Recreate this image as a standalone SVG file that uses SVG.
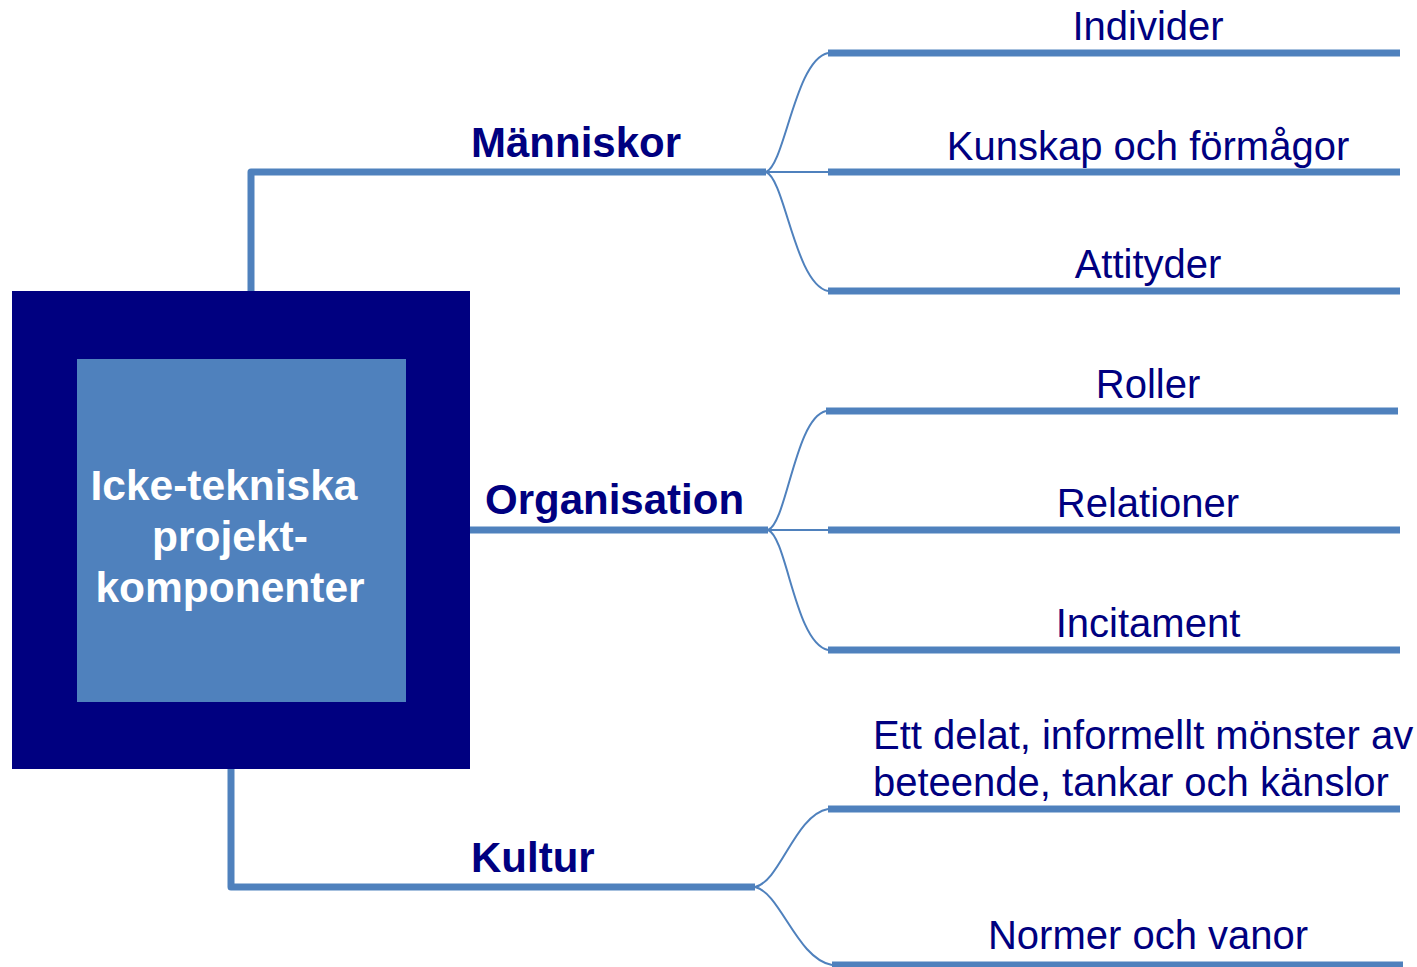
<svg xmlns="http://www.w3.org/2000/svg" width="1417" height="967" viewBox="0 0 1417 967">
<style>
.thick{fill:none;stroke:#4F81BD;stroke-width:7;stroke-linejoin:round;stroke-linecap:butt}
.thin{fill:none;stroke:#4F81BD;stroke-width:2}
.cat{font-family:"Liberation Sans",Arial,sans-serif;font-weight:bold;font-size:42px;fill:#000080}
.leaf{font-family:"Liberation Sans",Arial,sans-serif;font-size:40px;fill:#000080;text-anchor:middle}
.leafL{font-family:"Liberation Sans",Arial,sans-serif;font-size:40px;fill:#000080}
.center{font-family:"Liberation Sans",Arial,sans-serif;font-weight:bold;font-size:42.5px;fill:#FFFFFF;text-anchor:middle}
</style>
<rect width="1417" height="967" fill="#FFFFFF"/>
<g id="connectors">
  <path class="thick" d="M251,291 V172 H766"/>
  <path class="thick" d="M470,530 H768"/>
  <path class="thick" d="M231,769 V887 H755"/>
  <path class="thin" d="M766,172 C785,165 795,60 828,53"/>
  <path class="thin" d="M766,172 H828"/>
  <path class="thin" d="M766,172 C785,179 795,284 828,291"/>
  <path class="thin" d="M768,530 C787,523 795,418 826,411"/>
  <path class="thin" d="M768,530 H828"/>
  <path class="thin" d="M768,530 C787,537 795,643 828,650"/>
  <path class="thin" d="M755,887 C780,882 795,815 828,809"/>
  <path class="thin" d="M755,887 C780,892 797,959 832,965"/>
  <path class="thick" d="M828,53 H1400"/>
  <path class="thick" d="M828,172 H1400"/>
  <path class="thick" d="M828,291 H1400"/>
  <path class="thick" d="M826,411 H1398"/>
  <path class="thick" d="M828,530 H1400"/>
  <path class="thick" d="M828,650 H1400"/>
  <path class="thick" d="M828,809 H1400"/>
  <path class="thick" d="M832,965 H1403"/>
</g>
<g id="center-node">
  <rect x="12" y="291" width="458" height="478" fill="#000080"/>
  <rect x="77" y="359" width="329" height="343" fill="#4F81BD"/>
  <text class="center" x="224" y="500">Icke-tekniska</text>
  <text class="center" x="230" y="551">projekt-</text>
  <text class="center" x="230" y="602">komponenter</text>
</g>
<g id="manniskor"><text class="cat" x="471" y="157">Människor</text></g>
<g id="organisation"><text class="cat" x="485" y="514">Organisation</text></g>
<g id="kultur"><text class="cat" x="471" y="872">Kultur</text></g>
<g id="individer"><text class="leaf" x="1148" y="40">Individer</text></g>
<g id="kunskap"><text class="leaf" x="1148" y="160">Kunskap och förmågor</text></g>
<g id="attityder"><text class="leaf" x="1148" y="278">Attityder</text></g>
<g id="roller"><text class="leaf" x="1148" y="398">Roller</text></g>
<g id="relationer"><text class="leaf" x="1148" y="517">Relationer</text></g>
<g id="incitament"><text class="leaf" x="1148" y="637">Incitament</text></g>
<g id="monster"><text class="leafL" x="873" y="749">Ett delat, informellt mönster av</text><text class="leafL" x="873" y="796">beteende, tankar och känslor</text></g>
<g id="normer"><text class="leaf" x="1148" y="949">Normer och vanor</text></g>
</svg>
